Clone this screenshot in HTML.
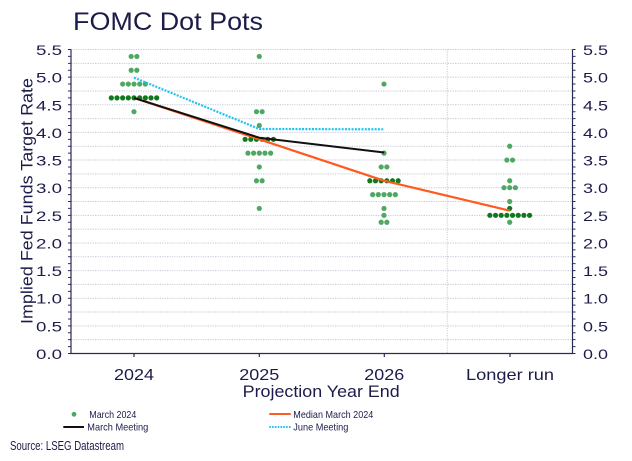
<!DOCTYPE html>
<html><head><meta charset="utf-8"><style>
html,body{margin:0;padding:0;background:#fff;width:632px;height:461px;overflow:hidden}
svg{display:block}
text{font-family:"Liberation Sans",sans-serif;fill:#1c1c4a}
</style></head><body>
<svg width="632" height="461" viewBox="0 0 632 461" xmlns="http://www.w3.org/2000/svg">
<rect width="632" height="461" fill="#fff"/>
<text x="73" y="30" font-size="25" textLength="190" lengthAdjust="spacingAndGlyphs">FOMC Dot Pots</text>
<g stroke="#c6c6d4" stroke-width="1" stroke-dasharray="1.2 1.2">
<line x1="71" x2="572.5" y1="339.68" y2="339.68"/>
<line x1="71" x2="572.5" y1="325.87" y2="325.87"/>
<line x1="71" x2="572.5" y1="312.05" y2="312.05"/>
<line x1="71" x2="572.5" y1="298.23" y2="298.23"/>
<line x1="71" x2="572.5" y1="284.41" y2="284.41"/>
<line x1="71" x2="572.5" y1="270.6" y2="270.6"/>
<line x1="71" x2="572.5" y1="256.78" y2="256.78"/>
<line x1="71" x2="572.5" y1="242.96" y2="242.96"/>
<line x1="71" x2="572.5" y1="229.14" y2="229.14"/>
<line x1="71" x2="572.5" y1="215.33" y2="215.33"/>
<line x1="71" x2="572.5" y1="201.51" y2="201.51"/>
<line x1="71" x2="572.5" y1="187.69" y2="187.69"/>
<line x1="71" x2="572.5" y1="173.88" y2="173.88"/>
<line x1="71" x2="572.5" y1="160.06" y2="160.06"/>
<line x1="71" x2="572.5" y1="146.24" y2="146.24"/>
<line x1="71" x2="572.5" y1="132.42" y2="132.42"/>
<line x1="71" x2="572.5" y1="118.6" y2="118.6"/>
<line x1="71" x2="572.5" y1="104.79" y2="104.79"/>
<line x1="71" x2="572.5" y1="90.97" y2="90.97"/>
<line x1="71" x2="572.5" y1="77.15" y2="77.15"/>
<line x1="71" x2="572.5" y1="63.33" y2="63.33"/>
<line x1="71" x2="572.5" y1="49.52" y2="49.52"/>
</g>
<line x1="447.3" y1="49.5" x2="447.3" y2="353.5" stroke="#cbcbd8" stroke-width="1" stroke-dasharray="1.2 1.2"/>
<g stroke="#2b2b5a" stroke-width="1.2">
<line x1="71" y1="49.5" x2="71" y2="353.5"/>
<line x1="572.5" y1="49.5" x2="572.5" y2="353.5"/>
<line x1="70.4" y1="353.5" x2="573.1" y2="353.5"/>
<line x1="134" y1="353.5" x2="134" y2="357"/>
<line x1="259.3" y1="353.5" x2="259.3" y2="357"/>
<line x1="384.3" y1="353.5" x2="384.3" y2="357"/>
<line x1="510" y1="353.5" x2="510" y2="357"/>
</g>
<g stroke="#2b2b5a" stroke-width="3" stroke-dasharray="1 5.90875">
<line x1="69.5" y1="354" x2="69.5" y2="48"/>
<line x1="574" y1="354" x2="574" y2="48"/>
</g>
<g fill="#4fa862">
<circle cx="131.17" cy="56.42" r="2.6"/><circle cx="136.84" cy="56.42" r="2.6"/>
<circle cx="131.17" cy="70.24" r="2.6"/><circle cx="136.84" cy="70.24" r="2.6"/>
<circle cx="122.66" cy="84.06" r="2.6"/><circle cx="128.33" cy="84.06" r="2.6"/><circle cx="134" cy="84.06" r="2.6"/><circle cx="139.67" cy="84.06" r="2.6"/><circle cx="145.34" cy="84.06" r="2.6"/>
<circle cx="134" cy="111.7" r="2.6"/>
<circle cx="259.3" cy="56.42" r="2.6"/>
<circle cx="256.47" cy="111.7" r="2.6"/><circle cx="262.14" cy="111.7" r="2.6"/>
<circle cx="259.3" cy="125.51" r="2.6"/>
<circle cx="247.96" cy="153.15" r="2.6"/><circle cx="253.63" cy="153.15" r="2.6"/><circle cx="259.3" cy="153.15" r="2.6"/><circle cx="264.97" cy="153.15" r="2.6"/><circle cx="270.64" cy="153.15" r="2.6"/>
<circle cx="259.3" cy="166.97" r="2.6"/>
<circle cx="256.47" cy="180.78" r="2.6"/><circle cx="262.14" cy="180.78" r="2.6"/>
<circle cx="259.3" cy="208.42" r="2.6"/>
<circle cx="384" cy="84.06" r="2.6"/>
<circle cx="384" cy="153.15" r="2.6"/>
<circle cx="381.17" cy="166.97" r="2.6"/><circle cx="386.84" cy="166.97" r="2.6"/>
<circle cx="372.66" cy="194.6" r="2.6"/><circle cx="378.33" cy="194.6" r="2.6"/><circle cx="384" cy="194.6" r="2.6"/><circle cx="389.67" cy="194.6" r="2.6"/><circle cx="395.34" cy="194.6" r="2.6"/>
<circle cx="384" cy="208.42" r="2.6"/>
<circle cx="384" cy="215.33" r="2.6"/>
<circle cx="381.17" cy="222.24" r="2.6"/><circle cx="386.84" cy="222.24" r="2.6"/>
<circle cx="509.7" cy="146.24" r="2.6"/>
<circle cx="506.87" cy="160.06" r="2.6"/><circle cx="512.54" cy="160.06" r="2.6"/>
<circle cx="509.7" cy="180.78" r="2.6"/>
<circle cx="504.03" cy="187.69" r="2.6"/><circle cx="509.7" cy="187.69" r="2.6"/><circle cx="515.37" cy="187.69" r="2.6"/>
<circle cx="509.7" cy="201.51" r="2.6"/>
<circle cx="509.7" cy="222.24" r="2.6"/>
</g>
<g fill="#0e7a1c">
<circle cx="111.32" cy="97.88" r="2.6"/><circle cx="116.99" cy="97.88" r="2.6"/><circle cx="122.66" cy="97.88" r="2.6"/><circle cx="128.33" cy="97.88" r="2.6"/><circle cx="134" cy="97.88" r="2.6"/><circle cx="139.67" cy="97.88" r="2.6"/><circle cx="145.34" cy="97.88" r="2.6"/><circle cx="151.01" cy="97.88" r="2.6"/><circle cx="156.68" cy="97.88" r="2.6"/>
<circle cx="245.13" cy="139.33" r="2.6"/><circle cx="250.8" cy="139.33" r="2.6"/><circle cx="256.47" cy="139.33" r="2.6"/><circle cx="262.14" cy="139.33" r="2.6"/><circle cx="267.81" cy="139.33" r="2.6"/><circle cx="273.48" cy="139.33" r="2.6"/>
<circle cx="369.83" cy="180.78" r="2.6"/><circle cx="375.5" cy="180.78" r="2.6"/><circle cx="381.17" cy="180.78" r="2.6"/><circle cx="386.84" cy="180.78" r="2.6"/><circle cx="392.51" cy="180.78" r="2.6"/><circle cx="398.18" cy="180.78" r="2.6"/>
<circle cx="509.7" cy="208.42" r="2.6"/>
<circle cx="489.86" cy="215.33" r="2.6"/><circle cx="495.53" cy="215.33" r="2.6"/><circle cx="501.2" cy="215.33" r="2.6"/><circle cx="506.87" cy="215.33" r="2.6"/><circle cx="512.54" cy="215.33" r="2.6"/><circle cx="518.21" cy="215.33" r="2.6"/><circle cx="523.88" cy="215.33" r="2.6"/><circle cx="529.55" cy="215.33" r="2.6"/>
</g>
<g fill="none" stroke-linejoin="round">
<polyline points="134,97.9 259.3,139.3 384.3,180.8 510,210.7" stroke="#ff5a1f" stroke-width="2.2"/>
<polyline points="134,97.9 259.3,137.7 384.3,152.5" stroke="#111" stroke-width="2"/>
<polyline points="134,77.6 259.3,129 384.3,129.3" stroke="#1ec4f0" stroke-width="2.2" stroke-dasharray="2 1.3"/>
</g>
<g font-size="14" text-anchor="end">
<text x="62" y="359" textLength="26" lengthAdjust="spacingAndGlyphs">0.0</text>
<text x="62" y="331.37" textLength="26" lengthAdjust="spacingAndGlyphs">0.5</text>
<text x="62" y="303.73" textLength="26" lengthAdjust="spacingAndGlyphs">1.0</text>
<text x="62" y="276.1" textLength="26" lengthAdjust="spacingAndGlyphs">1.5</text>
<text x="62" y="248.46" textLength="26" lengthAdjust="spacingAndGlyphs">2.0</text>
<text x="62" y="220.83" textLength="26" lengthAdjust="spacingAndGlyphs">2.5</text>
<text x="62" y="193.19" textLength="26" lengthAdjust="spacingAndGlyphs">3.0</text>
<text x="62" y="165.56" textLength="26" lengthAdjust="spacingAndGlyphs">3.5</text>
<text x="62" y="137.92" textLength="26" lengthAdjust="spacingAndGlyphs">4.0</text>
<text x="62" y="110.29" textLength="26" lengthAdjust="spacingAndGlyphs">4.5</text>
<text x="62" y="82.65" textLength="26" lengthAdjust="spacingAndGlyphs">5.0</text>
<text x="62" y="55.02" textLength="26" lengthAdjust="spacingAndGlyphs">5.5</text>
</g>
<g font-size="14">
<text x="583" y="359" textLength="25" lengthAdjust="spacingAndGlyphs">0.0</text>
<text x="583" y="331.37" textLength="25" lengthAdjust="spacingAndGlyphs">0.5</text>
<text x="583" y="303.73" textLength="25" lengthAdjust="spacingAndGlyphs">1.0</text>
<text x="583" y="276.1" textLength="25" lengthAdjust="spacingAndGlyphs">1.5</text>
<text x="583" y="248.46" textLength="25" lengthAdjust="spacingAndGlyphs">2.0</text>
<text x="583" y="220.83" textLength="25" lengthAdjust="spacingAndGlyphs">2.5</text>
<text x="583" y="193.19" textLength="25" lengthAdjust="spacingAndGlyphs">3.0</text>
<text x="583" y="165.56" textLength="25" lengthAdjust="spacingAndGlyphs">3.5</text>
<text x="583" y="137.92" textLength="25" lengthAdjust="spacingAndGlyphs">4.0</text>
<text x="583" y="110.29" textLength="25" lengthAdjust="spacingAndGlyphs">4.5</text>
<text x="583" y="82.65" textLength="25" lengthAdjust="spacingAndGlyphs">5.0</text>
<text x="583" y="55.02" textLength="25" lengthAdjust="spacingAndGlyphs">5.5</text>
</g>
<g font-size="16" text-anchor="middle">
<text x="134" y="380" textLength="40" lengthAdjust="spacingAndGlyphs">2024</text>
<text x="259.3" y="380" textLength="40" lengthAdjust="spacingAndGlyphs">2025</text>
<text x="384.3" y="380" textLength="40" lengthAdjust="spacingAndGlyphs">2026</text>
<text x="510" y="380" textLength="88" lengthAdjust="spacingAndGlyphs">Longer run</text>
</g>
<text x="242.7" y="397" font-size="17" textLength="157" lengthAdjust="spacingAndGlyphs">Projection Year End</text>
<text x="0" y="0" font-size="17" text-anchor="middle" textLength="246" lengthAdjust="spacingAndGlyphs" transform="translate(32.5 201) rotate(-90)">Implied Fed Funds Target Rate</text>
<circle cx="74" cy="414.3" r="2.4" fill="#4fa862"/>
<text x="89.3" y="418" font-size="10.5" textLength="47" lengthAdjust="spacingAndGlyphs">March 2024</text>
<line x1="63.3" y1="427" x2="84" y2="427" stroke="#111" stroke-width="2"/>
<text x="87.3" y="430.7" font-size="10.5" textLength="61" lengthAdjust="spacingAndGlyphs">March Meeting</text>
<line x1="269.3" y1="414" x2="290.7" y2="414" stroke="#ff5a1f" stroke-width="2"/>
<text x="293.3" y="418" font-size="10.5" textLength="80" lengthAdjust="spacingAndGlyphs">Median March 2024</text>
<line x1="269.3" y1="427" x2="290.7" y2="427" stroke="#1ec4f0" stroke-width="2" stroke-dasharray="1.6 1.2"/>
<text x="293.3" y="430.7" font-size="10.5" textLength="55" lengthAdjust="spacingAndGlyphs">June Meeting</text>
<text x="10" y="450" font-size="12.5" textLength="114" lengthAdjust="spacingAndGlyphs">Source: LSEG Datastream</text>
</svg>
</body></html>
